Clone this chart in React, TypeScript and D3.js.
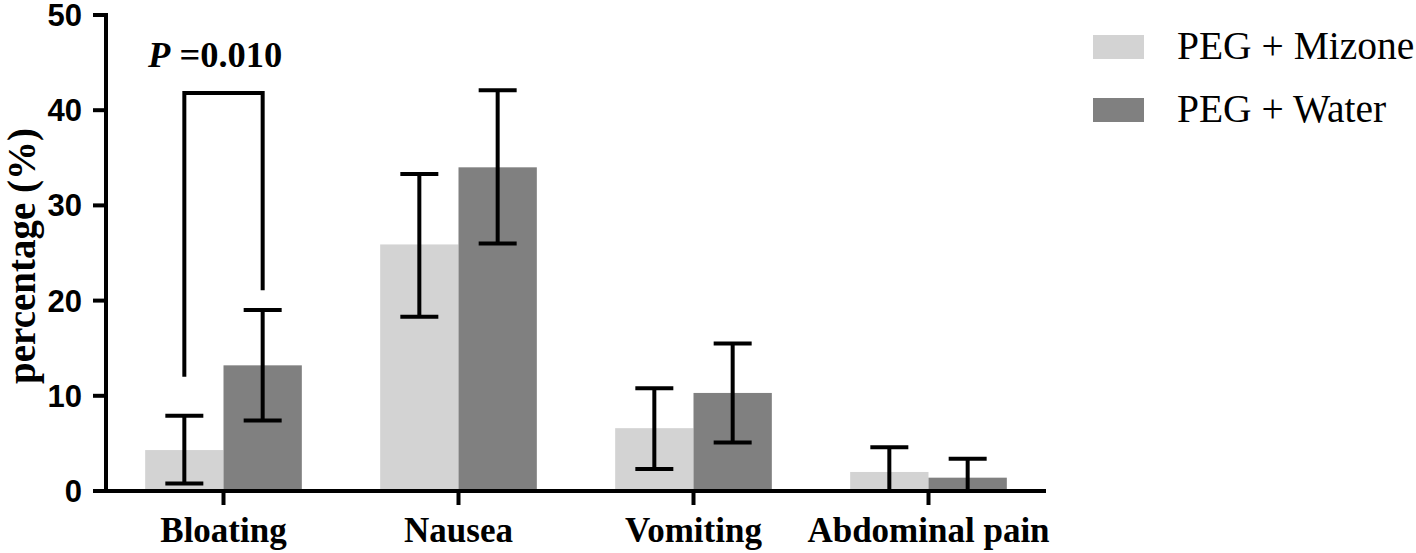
import React from "react";
import * as d3 from "d3";

const categories = ["Bloating", "Nausea", "Vomiting", "Abdominal pain"];
const seriesNames = ["PEG + Mizone", "PEG + Water"];
const seriesColors = ["#d3d3d3", "#808080"];
const mizoneValues = [4.3, 25.9, 6.6, 2.0];
const mizoneLower = [0.8, 18.3, 2.3, 0];
const mizoneUpper = [7.9, 33.3, 10.8, 4.6];
const waterValues = [13.2, 34.0, 10.3, 1.4];
const waterLower = [7.4, 26.0, 5.1, 0];
const waterUpper = [19.0, 42.1, 15.5, 3.4];
const yTicks = [0, 10, 20, 30, 40, 50];
const bracketTop = 41.8;
const bracketLeftEnd = 12.0;
const bracketRightEnd = 21.1;

const W = 1416;
const H = 553;

export default function App() {
  const x0 = d3.scaleBand<string>().domain(categories).range([106, 1046]).padding(0);
  const x1 = d3.scaleBand<string>().domain(seriesNames).range([0, x0.bandwidth()]).paddingInner(0).paddingOuter(0.5);
  const y = d3.scaleLinear().domain([0, 50]).range([491, 15]);

  const series = [
    { name: seriesNames[0], color: seriesColors[0], values: mizoneValues, lo: mizoneLower, hi: mizoneUpper },
    { name: seriesNames[1], color: seriesColors[1], values: waterValues, lo: waterLower, hi: waterUpper },
  ];

  const capW = 38;
  const sw = 4;
  const serif = "'Liberation Serif', 'Times New Roman', serif";
  const sans = "'Liberation Sans', Arial, sans-serif";

  const bx1 = (x0(categories[0]) as number) + (x1(seriesNames[0]) as number) + x1.bandwidth() / 2;
  const bx2 = (x0(categories[0]) as number) + (x1(seriesNames[1]) as number) + x1.bandwidth() / 2;

  return (
    <svg width={W} height={H} style={{ position: "absolute", left: 0, top: 0, background: "#fff" }}>
      {/* bars */}
      {series.map((s) =>
        categories.map((c, i) => {
          const x = (x0(c) as number) + (x1(s.name) as number);
          return (
            <rect key={s.name + c} x={x} y={y(s.values[i])} width={x1.bandwidth()} height={y(0) - y(s.values[i])} fill={s.color} />
          );
        })
      )}
      {/* error bars */}
      {series.map((s) =>
        categories.map((c, i) => {
          const cx = (x0(c) as number) + (x1(s.name) as number) + x1.bandwidth() / 2;
          const lo = Math.max(0, s.lo[i]);
          return (
            <g key={"e" + s.name + c} stroke="#000" strokeWidth={sw}>
              <line x1={cx} x2={cx} y1={y(s.hi[i])} y2={y(lo)} />
              <line x1={cx - capW / 2} x2={cx + capW / 2} y1={y(s.hi[i])} y2={y(s.hi[i])} />
              {s.lo[i] > 0 && <line x1={cx - capW / 2} x2={cx + capW / 2} y1={y(s.lo[i])} y2={y(s.lo[i])} />}
            </g>
          );
        })
      )}
      {/* axes */}
      <g stroke="#000" strokeWidth={sw}>
        <line x1={106} x2={106} y1={y(50) - 2} y2={y(0) + 2} />
        <line x1={104} x2={1046} y1={y(0)} y2={y(0)} />
        {yTicks.map((t) => (
          <line key={"yt" + t} x1={93} x2={106} y1={y(t)} y2={y(t)} />
        ))}
        {categories.map((c) => {
          const cx = (x0(c) as number) + x0.bandwidth() / 2;
          return <line key={"xt" + c} x1={cx} x2={cx} y1={y(0)} y2={y(0) + 14} />;
        })}
      </g>
      {yTicks.map((t) => (
        <text key={"yl" + t} x={82} y={y(t) + 11} textAnchor="end" fontFamily={sans} fontWeight="bold" fontSize={31}>
          {t}
        </text>
      ))}
      {categories.map((c) => {
        const cx = (x0(c) as number) + x0.bandwidth() / 2;
        return (
          <text key={"xl" + c} x={cx} y={542} textAnchor="middle" fontFamily={serif} fontWeight="bold" fontSize={35}>
            {c}
          </text>
        );
      })}
      <text transform={`translate(35, 256) rotate(-90)`} textAnchor="middle" fontFamily={serif} fontWeight="bold" fontSize={39}>
        percentage (%)
      </text>
      {/* significance bracket */}
      <path
        d={`M${bx1},${y(bracketLeftEnd)} V${y(bracketTop)} H${bx2} V${y(bracketRightEnd)}`}
        fill="none"
        stroke="#000"
        strokeWidth={sw}
      />
      <text x={148} y={67} fontFamily={serif} fontWeight="bold" fontSize={36.5}>
        <tspan fontStyle="italic">P</tspan>
        <tspan> =0.010</tspan>
      </text>
      {/* legend */}
      {series.map((s, i) => (
        <g key={"lg" + s.name}>
          <rect x={1093} y={35 + i * 63} width={51} height={24} fill={s.color} />
          <text x={1177} y={59 + i * 63} fontFamily={serif} fontSize={39.5}>
            {s.name}
          </text>
        </g>
      ))}
    </svg>
  );
}
